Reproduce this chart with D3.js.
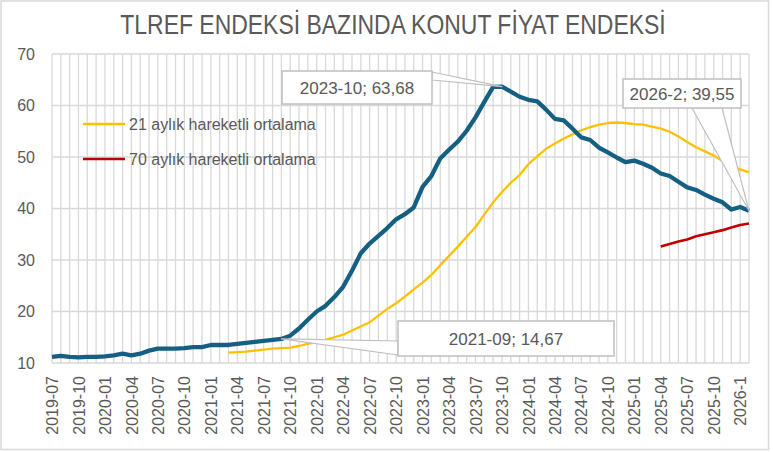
<!DOCTYPE html>
<html><head><meta charset="utf-8">
<script src="https://cdn.jsdelivr.net/npm/d3@7"></script>
<style>html,body{margin:0;padding:0;background:#fff;}svg{display:block;}</style>
</head><body>
<svg id="c" width="773" height="452"></svg>
<script>
const categories = [
"2019-07","2019-08","2019-09","2019-10","2019-11","2019-12",
"2020-01","2020-02","2020-03","2020-04","2020-05","2020-06","2020-07","2020-08","2020-09","2020-10","2020-11","2020-12",
"2021-01","2021-02","2021-03","2021-04","2021-05","2021-06","2021-07","2021-08","2021-09","2021-10","2021-11","2021-12",
"2022-01","2022-02","2022-03","2022-04","2022-05","2022-06","2022-07","2022-08","2022-09","2022-10","2022-11","2022-12",
"2023-01","2023-02","2023-03","2023-04","2023-05","2023-06","2023-07","2023-08","2023-09","2023-10","2023-11","2023-12",
"2024-01","2024-02","2024-03","2024-04","2024-05","2024-06","2024-07","2024-08","2024-09","2024-10","2024-11","2024-12",
"2025-01","2025-02","2025-03","2025-04","2025-05","2025-06","2025-07","2025-08","2025-09","2025-10","2025-11","2025-12",
"2026-1","2026-2"];

const tickLabels = ["2019-07","2019-10","2020-01","2020-04","2020-07","2020-10","2021-01","2021-04","2021-07","2021-10",
"2022-01","2022-04","2022-07","2022-10","2023-01","2023-04","2023-07","2023-10","2024-01","2024-04","2024-07","2024-10",
"2025-01","2025-04","2025-07","2025-10","2026-1"];

const yTicks = [10,20,30,40,50,60,70];

const konutEndeksi = [
11.2,11.4,11.2,11.1,11.2,11.2,11.3,11.5,11.8,11.5,11.8,12.4,12.8,12.8,12.8,12.9,13.1,13.1,13.5,13.5,
13.5,13.7,13.9,14.1,14.3,14.5,14.67,15.3,16.7,18.4,20.0,21.1,22.8,24.8,27.9,31.3,33.2,34.7,36.2,37.9,
38.9,40.2,44.2,46.3,49.7,51.4,53.0,55.1,57.7,60.7,63.6,63.68,62.7,61.7,61.1,60.8,59.2,57.4,57.1,55.5,
53.8,53.3,51.8,50.9,49.9,49.0,49.3,48.7,47.9,46.8,46.3,45.2,44.1,43.6,42.7,41.9,41.2,39.8,40.3,39.55];

const ma21 = [
null,null,null,null,null,null,null,null,null,null,null,null,null,null,null,null,null,null,null,null,
12.0,12.1,12.2,12.4,12.6,12.8,12.9,13.0,13.3,13.7,14.1,14.5,15.0,15.5,16.3,17.1,17.9,19.2,20.5,21.6,
22.9,24.3,25.6,27.1,29.0,30.8,32.6,34.5,36.4,38.8,41.2,43.2,45.0,46.5,48.6,50.1,51.6,52.6,53.6,54.4,
55.2,55.8,56.3,56.6,56.7,56.6,56.4,56.3,55.9,55.5,54.9,54.0,52.9,51.9,51.1,50.3,49.2,48.3,47.6,47.0];

const ma70 = [
null,null,null,null,null,null,null,null,null,null,null,null,null,null,null,null,null,null,null,null,
null,null,null,null,null,null,null,null,null,null,null,null,null,null,null,null,null,null,null,null,
null,null,null,null,null,null,null,null,null,null,null,null,null,null,null,null,null,null,null,null,
null,null,null,null,null,null,null,null,null,32.6,33.1,33.6,34.0,34.6,35.0,35.4,35.8,36.3,36.8,37.1];

const seriesNames = ["21 aylık hareketli ortalama","70 aylık hareketli ortalama"];
const annotations = [
  {cat:"2023-10", value:63.68, text:"2023-10; 63,68"},
  {cat:"2021-09", value:14.67, text:"2021-09; 14,67"},
  {cat:"2026-2", value:39.55, text:"2026-2; 39,55"}
];

const svg = d3.select("#c");
const m = {left:52, right:749, top:54, bottom:363};
const grey = "#595959", grid = "#D9D9D9";

svg.append("rect").attr("x",1).attr("y",1).attr("width",767.5).attr("height",448.5)
  .attr("fill","#fff").attr("stroke",grid).attr("stroke-width",1.5);

const x = d3.scalePoint().domain(categories).range([m.left, m.right]).padding(0);
const y = d3.scaleLinear().domain([10,70]).range([m.bottom, m.top]);

// title (horizontally condensed to mimic a narrow face)
svg.append("text").attr("transform","translate(393,34) scale(0.82,1)").attr("text-anchor","middle")
  .attr("font-family","'Liberation Sans',Arial,sans-serif")
  .attr("font-size",28).attr("fill",grey)
  .text("TLREF ENDEKSİ BAZINDA KONUT FİYAT ENDEKSİ");

// gridlines
const g = svg.append("g");
g.selectAll("line.v").data(categories).enter().append("line")
  .attr("x1",d=>x(d)).attr("x2",d=>x(d)).attr("y1",m.top).attr("y2",m.bottom)
  .attr("stroke",grid).attr("stroke-width",1.3);
g.selectAll("line.h").data(yTicks).enter().append("line")
  .attr("x1",m.left).attr("x2",m.right).attr("y1",d=>y(d)).attr("y2",d=>y(d))
  .attr("stroke",grid).attr("stroke-width",1.3);

// y axis
const yAxis = d3.axisLeft(y).tickValues(yTicks).tickSize(0).tickPadding(17);
const ya = svg.append("g").attr("transform",`translate(${m.left},0)`).call(yAxis);
ya.select(".domain").remove();
ya.selectAll("text").attr("font-family","'Liberation Sans',Arial,sans-serif").attr("font-size",16).attr("fill",grey);

// x axis
const xAxis = d3.axisBottom(x).tickValues(tickLabels).tickSize(0).tickPadding(0);
const xa = svg.append("g").attr("transform",`translate(0,${m.bottom})`).call(xAxis);
xa.select(".domain").remove();
xa.selectAll("text").attr("font-family","'Liberation Sans',Arial,sans-serif").attr("font-size",16).attr("fill",grey)
  .attr("transform","rotate(-90)").attr("text-anchor","end").attr("dy","0.35em").attr("x",-13).attr("y",0);

// lines
const line = d3.line().defined(d=>d.v!=null).x(d=>x(d.c)).y(d=>y(d.v));
const mk = arr => categories.map((c,i)=>({c, v:arr[i]}));
svg.append("path").datum(mk(ma21)).attr("d",line).attr("fill","none").attr("stroke","#FFC000").attr("stroke-width",2.3).attr("stroke-linejoin","round");
svg.append("path").datum(mk(ma70)).attr("d",line).attr("fill","none").attr("stroke","#C00000").attr("stroke-width",2.6).attr("stroke-linejoin","round");
svg.append("path").datum(mk(konutEndeksi)).attr("d",line).attr("fill","none").attr("stroke","#156082").attr("stroke-width",4.3).attr("stroke-linejoin","round");

// legend
const legColors = ["#FFC000","#C00000"];
const leg = svg.append("g");
seriesNames.forEach((n,i)=>{
  const ly = 124 + i*35;
  leg.append("line").attr("x1",83).attr("x2",125).attr("y1",ly).attr("y2",ly).attr("stroke",legColors[i]).attr("stroke-width",2.6);
  leg.append("text").attr("x",129).attr("y",ly+5.5).attr("font-family","'Liberation Sans',Arial,sans-serif")
    .attr("font-size",16).attr("fill",grey).text(n);
});

// annotations (callouts)
const boxes = [
  {x0:282, y0:71, x1:432, y1:104, base:[[432,72],[432,80]]},
  {x0:398, y0:321, x1:614, y1:356, base:[[398,341],[398,355]]},
  {x0:623, y0:79, x1:741, y1:108, base:[[692,108],[722,108]]}
];
annotations.forEach((a,i)=>{
  const b = boxes[i];
  const px = x(a.cat), py = y(a.value);
  svg.append("polygon").attr("points",[b.base[0],[px,py],b.base[1]].map(p=>p.join(",")).join(" "))
    .attr("fill","#fff").attr("stroke","#BFBFBF").attr("stroke-width",1.2).attr("stroke-linejoin","round");
  svg.append("rect").attr("x",b.x0).attr("y",b.y0).attr("width",b.x1-b.x0).attr("height",b.y1-b.y0)
    .attr("fill","#fff").attr("stroke","#BFBFBF").attr("stroke-width",1.5);
  svg.append("text").attr("x",(b.x0+b.x1)/2).attr("y",(b.y0+b.y1)/2+6)
    .attr("text-anchor","middle").attr("font-family","'Liberation Sans',Arial,sans-serif")
    .attr("font-size",17).attr("fill",grey).text(a.text);
});
</script>
</body></html>
